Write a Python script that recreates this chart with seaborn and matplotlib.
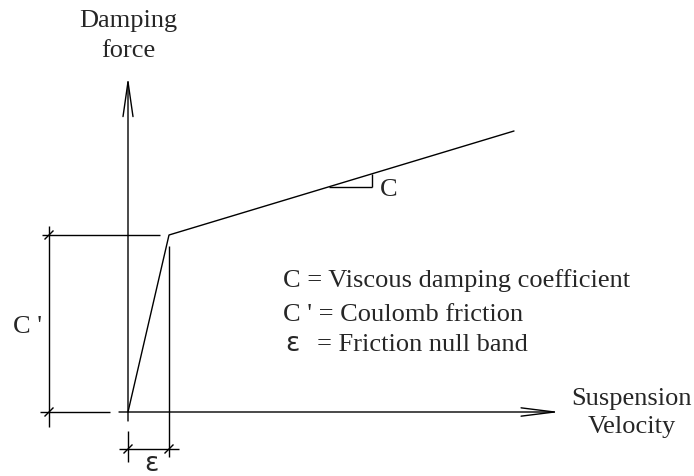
import matplotlib
matplotlib.use("Agg")
import matplotlib.pyplot as plt
import seaborn as sns
from matplotlib.patches import FancyArrowPatch

sns.set_theme(style="white")
plt.rcParams['font.family'] = ['Liberation Serif', 'DejaVu Serif']

# schematic values (drawing units)
velocity = [0, 41, 386]        # 0, epsilon (null band), end of curve
force = [0, 177, 281]          # 0, C' (Coulomb friction), end of curve
epsilon_band = 41
coulomb = 177

legend_lines = ["C = Viscous damping coefficient",
                "C ' = Coulomb friction",
                "= Friction null band"]

fig = plt.figure(figsize=(6.94, 4.77), dpi=100)
ax = fig.add_axes([0, 0, 1, 1])
ax.set_xlim(-128, 566)
ax.set_ylim(-64, 413)
ax.axis('off')

LW = 1.0
K = 'black'

# damping curve
sns.lineplot(x=velocity, y=force, color=K, lw=LW, ax=ax, sort=False,
             estimator=None)

# axes arrows
arr_x = FancyArrowPatch((-9, 0), (432, 0),
                        arrowstyle='->,head_length=2.4,head_width=0.3',
                        mutation_scale=10, color=K, lw=LW,
                        shrinkA=0, shrinkB=0)
arr_y = FancyArrowPatch((0, -9), (0, 335),
                        arrowstyle='->,head_length=2.5,head_width=0.36',
                        mutation_scale=10, color=K, lw=LW,
                        shrinkA=0, shrinkB=0)
ax.add_patch(arr_x)
ax.add_patch(arr_y)


def seg(x0, y0, x1, y1):
    ax.plot([x0, x1], [y0, y1], color=K, lw=LW, solid_capstyle='butt')


def tick(x, y, s=4.5):
    seg(x - s, y - s, x + s, y + s)


# C' dimension (left)
seg(-86, coulomb, 32, coulomb)
seg(-88, 0, -18, 0)
seg(-79, -15, -79, 186)
tick(-79, coulomb)
tick(-79, 0)

# epsilon dimension (bottom)
seg(epsilon_band, 166, epsilon_band, -45)
seg(0, -19, 0, -50)
seg(-9, -37, 51, -37)
tick(0, -37)
tick(epsilon_band, -37)

# slope triangle
seg(201, 225, 244, 225)
seg(244, 225, 244, 238)

FS = 19
ax.text(0.5, 386, "Damping", ha='center', va='baseline', fontsize=FS)
ax.text(0.5, 356, "force", ha='center', va='baseline', fontsize=FS)
ax.text(504, 8, "Suspension", ha='center', va='baseline', fontsize=FS)
ax.text(504, -20, "Velocity", ha='center', va='baseline', fontsize=FS)
ax.text(-115, 80, "C '", ha='left', va='baseline', fontsize=FS)
ax.text(252, 217, "C", ha='left', va='baseline', fontsize=FS)

ax.text(155, 126, legend_lines[0], ha='left', va='baseline', fontsize=FS)
ax.text(155, 92, legend_lines[1], ha='left', va='baseline', fontsize=FS)
ax.text(157, 62, "ε", ha='left', va='baseline', fontsize=FS,
        family=['DejaVu Sans'])
ax.text(189, 62, legend_lines[2], ha='left', va='baseline', fontsize=FS)
ax.text(23, -58, "ε", ha='center', va='baseline', fontsize=FS,
        family=['DejaVu Sans'])

fig.savefig("out.png", dpi=100)
